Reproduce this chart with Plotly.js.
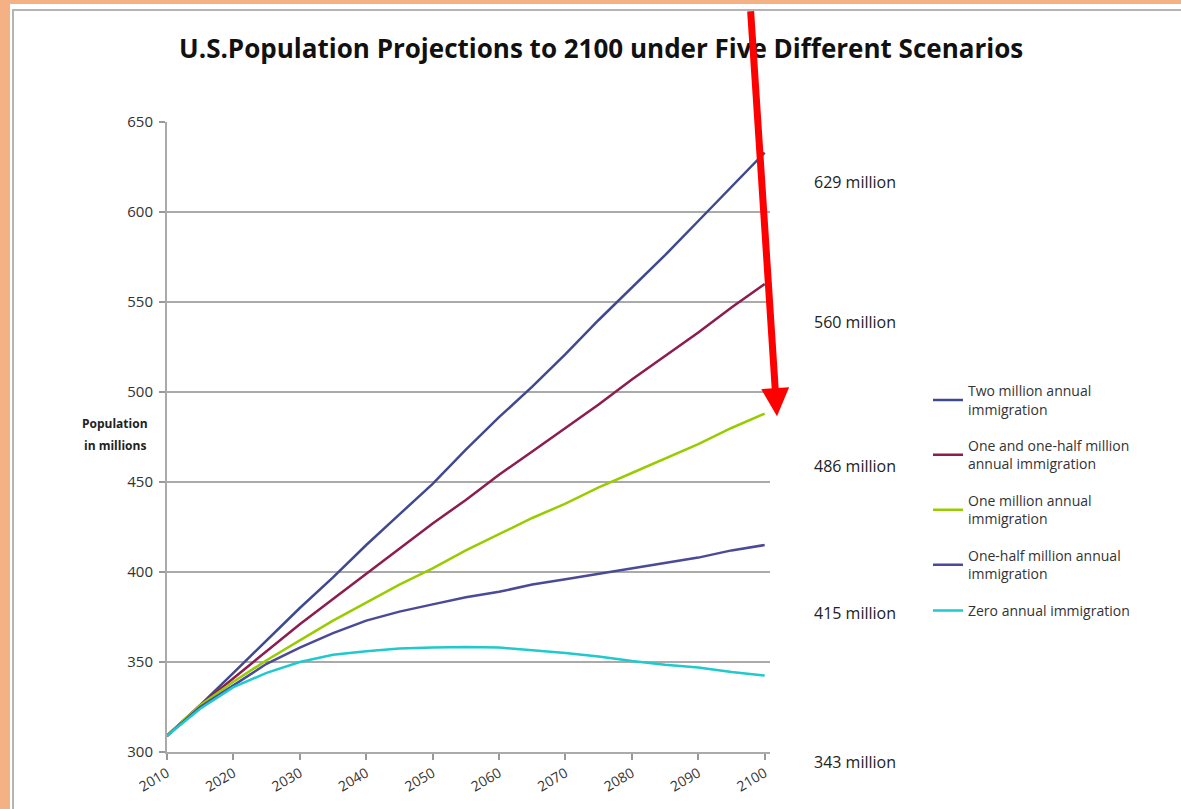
<!DOCTYPE html>
<html>
<head>
<meta charset="utf-8">
<script src="https://cdn.plot.ly/plotly-3.0.1.min.js"></script>
<style>
  html, body { margin: 0; padding: 0; background: #f4b183; }
  #frame { position: absolute; left: 10px; top: 4px; right: 0; bottom: 0; background: #fff; }
  #inner { position: absolute; left: 12px; top: 9px; right: 0; bottom: 0;
           border-left: 2px solid #b4b4b4; border-top: 2px solid #b4b4b4; }
  #chart { position: absolute; left: 0; top: 0; width: 1181px; height: 809px; }
</style>
</head>
<body>
<div id="frame"></div>
<div id="inner"></div>
<div id="chart"></div>
<script>
  // years and the five projection series (millions)
  const years = [2010, 2015, 2020, 2025, 2030, 2035, 2040, 2045, 2050, 2055,
                 2060, 2065, 2070, 2075, 2080, 2085, 2090, 2095, 2100];

  const twoMillion      = [309, 326, 344, 362, 380, 397, 415, 432, 449, 468,
                           486, 503, 521, 540, 558, 576, 595, 614, 633];
  const oneHalfMillion  = [309, 326, 341, 356, 371, 385, 399, 413, 427, 440,
                           454, 467, 480, 493, 507, 520, 533, 547, 560];
  const oneMillion      = [309, 326, 339, 351, 362, 373, 383, 393, 402, 412,
                           421, 430, 438, 447, 455, 463, 471, 480, 488];
  const halfMillion     = [309, 325, 337, 349, 358, 366, 373, 378, 382, 386,
                           389, 393, 396, 399, 402, 405, 408, 412, 415];
  const zeroImmigration = [309, 324, 336, 344, 350, 354, 356, 357.5, 358, 358.3,
                           358, 356.5, 355, 353, 350.5, 348.5, 347, 344.5, 342.5];

  const seriesNames = [
    'Two million annual<br>immigration',
    'One and one-half million<br>annual immigration',
    'One million annual<br>immigration',
    'One-half million annual<br>immigration',
    'Zero annual immigration'
  ];
  const seriesColors = ['#3f4a8e', '#8c1d4f', '#99cc00', '#4a4a98', '#1fc9cc'];

  const xTicks = [2010, 2020, 2030, 2040, 2050, 2060, 2070, 2080, 2090, 2100];

  // end-of-century labels on the right (vertical spot as a fraction of the plot height)
  const endLabels = ['629 million', '560 million', '486 million', '415 million', '343 million'];
  const endLabelPos = [0.905, 0.683, 0.454, 0.22, -0.016];

  const FONT = 'Open Sans, Liberation Sans, sans-serif';

  const seriesValues = [twoMillion, oneHalfMillion, oneMillion, halfMillion, zeroImmigration];
  const traces = seriesValues.map((vals, i) => ({
    x: years,
    y: vals,
    type: 'scatter',
    mode: 'lines',
    name: seriesNames[i],
    legendgroup: 'g' + i,
    line: { color: seriesColors[i], width: 2.5 }
  }));

  const annotations = endLabels.map((t, i) => ({
    text: t, xref: 'paper', yref: 'paper', x: 1.141, y: endLabelPos[i],
    xanchor: 'center', yanchor: 'middle', showarrow: false,
    font: { family: FONT, size: 16, color: '#222' }
  }));

  annotations.push(
    { text: '<b>Population</b>', xref: 'paper', yref: 'paper', x: -0.086, y: 0.522,
      showarrow: false, xanchor: 'center', font: { family: FONT, size: 12, color: '#222' } },
    { text: '<b>in millions</b>', xref: 'paper', yref: 'paper', x: -0.086, y: 0.487,
      showarrow: false, xanchor: 'center', font: { family: FONT, size: 12, color: '#222' } },
    // the red arrow pointing at the one-million line
    { text: ' ', xref: 'paper', yref: 'paper', x: 1.0116, y: 0.533, ax: -27, ay: -415,
      showarrow: true, arrowhead: 2, arrowsize: 0.8, arrowwidth: 7,
      arrowcolor: '#ff0000', standoff: 0, startstandoff: 0 }
  );

  const layout = {
    width: 1181,
    height: 809,
    margin: { l: 167, r: 411, t: 122, b: 57 },
    paper_bgcolor: 'rgba(0,0,0,0)',
    plot_bgcolor: 'rgba(0,0,0,0)',
    title: {
      text: '<b>U.S.Population Projections to 2100 under Five Different Scenarios</b>',
      xref: 'container', yref: 'container', x: 0.509, y: 0.94,
      xanchor: 'center', yanchor: 'middle',
      font: { family: FONT, size: 26, color: '#111' }
    },
    xaxis: {
      range: [2010, 2100.8],
      tickvals: xTicks,
      tickangle: -30,
      ticks: 'outside', ticklen: 6, tickcolor: '#999', tickwidth: 1.5,
      showline: true, linecolor: '#aaa', linewidth: 2,
      showgrid: false, zeroline: false,
      tickfont: { family: FONT, size: 14, color: '#333' }
    },
    yaxis: {
      range: [300, 650],
      dtick: 50,
      ticks: 'outside', ticklen: 6, tickcolor: '#999', tickwidth: 1.5,
      ticklabelstandoff: 3,
      showline: true, linecolor: '#aaa', linewidth: 2,
      showgrid: true, gridcolor: '#aaa', gridwidth: 2,
      zeroline: false,
      tickfont: { family: FONT, size: 15, color: '#333' }
    },
    showlegend: true,
    legend: {
      x: 1.262, y: 0.598, xanchor: 'left', yanchor: 'top',
      traceorder: 'grouped', tracegroupgap: 15.5,
      bgcolor: 'rgba(0,0,0,0)',
      font: { family: FONT, size: 14, color: '#333' }
    },
    annotations: annotations
  };

  Plotly.newPlot('chart', traces, layout, { displayModeBar: false });
</script>
</body>
</html>
